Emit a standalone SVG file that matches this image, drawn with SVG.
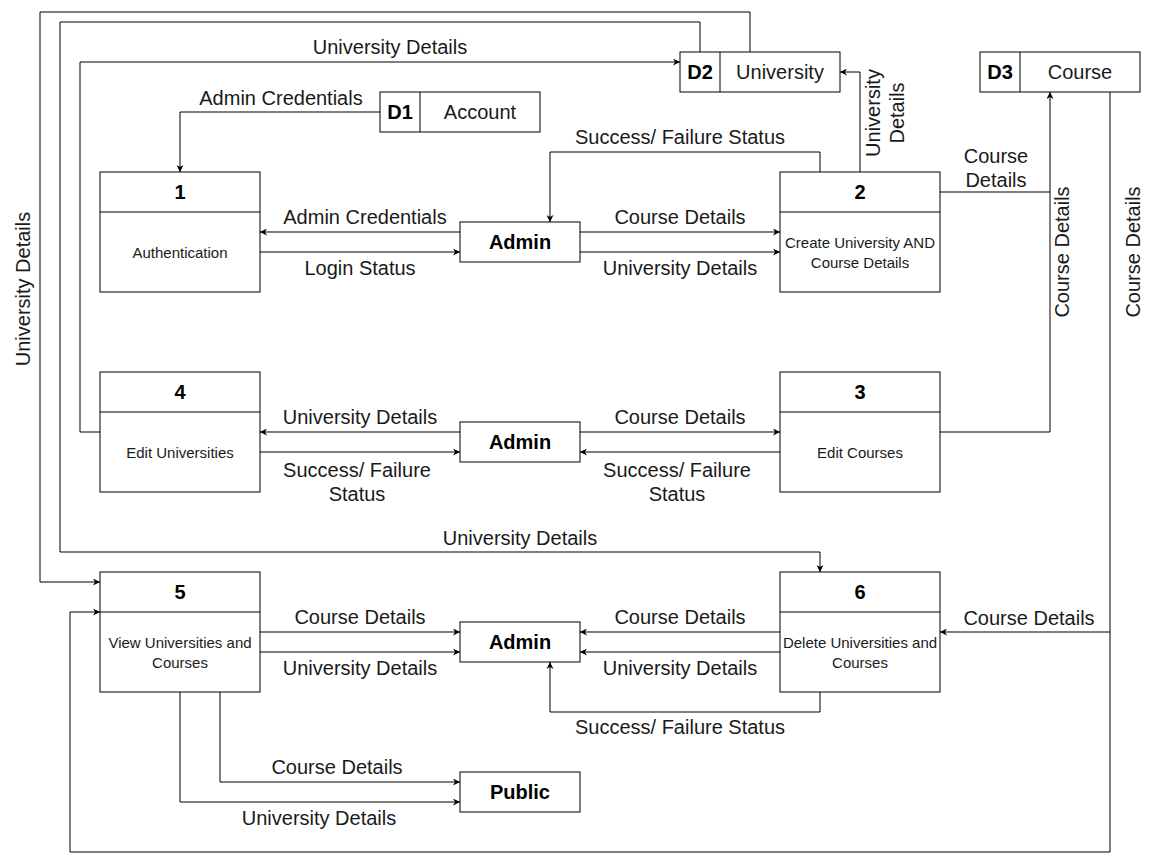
<svg xmlns="http://www.w3.org/2000/svg" width="1153" height="866" viewBox="0 0 1153 866">
<style>
.box{fill:#fff;stroke:#000;stroke-width:1}
.ln{fill:none;stroke:#000;stroke-width:1}
.lbl{font-family:"Liberation Sans",Arial,Helvetica,sans-serif;font-size:20px;fill:#1a1a1a;text-anchor:middle;dominant-baseline:central}
.num{font-family:"Liberation Sans",Arial,Helvetica,sans-serif;font-size:20px;font-weight:bold;fill:#000;text-anchor:middle;dominant-baseline:central}
.sm{font-family:"Liberation Sans",Arial,Helvetica,sans-serif;font-size:15px;fill:#1a1a1a;text-anchor:middle;dominant-baseline:central}
.ent{font-family:"Liberation Sans",Arial,Helvetica,sans-serif;font-size:20px;font-weight:bold;fill:#000;text-anchor:middle;dominant-baseline:central}
</style>
<defs>
<marker id="arr" viewBox="0 0 10 10" refX="10" refY="5" markerWidth="7" markerHeight="7" orient="auto" markerUnits="userSpaceOnUse">
<path d="M0,0 L10,5 L0,10 L3,5 Z" fill="#000"/>
</marker>
</defs>
<rect width="1153" height="866" fill="#fff"/>

<g id="connectors">
<path class="ln" d="M380,112 H180 V172" marker-end="url(#arr)"/>
<path class="ln" d="M460,232 H260" marker-end="url(#arr)"/>
<path class="ln" d="M260,252 H460" marker-end="url(#arr)"/>
<path class="ln" d="M580,232 H780" marker-end="url(#arr)"/>
<path class="ln" d="M580,252 H780" marker-end="url(#arr)"/>
<path class="ln" d="M820,172 V152 H550 V222" marker-end="url(#arr)"/>
<path class="ln" d="M860,172 V72 H840" marker-end="url(#arr)"/>
<path class="ln" d="M940,192 H1050 V92" marker-end="url(#arr)"/>
<path class="ln" d="M940,432 H1050 V192"/>
<path class="ln" d="M1110,92 V632 H940" marker-end="url(#arr)"/>
<path class="ln" d="M1110,632 V852 H70 V612 H100" marker-end="url(#arr)"/>
<path class="ln" d="M700,52 V22 H60 V552 H820 V572" marker-end="url(#arr)"/>
<path class="ln" d="M750,52 V12 H40 V582 H100" marker-end="url(#arr)"/>
<path class="ln" d="M100,432 H80 V62 H680" marker-end="url(#arr)"/>
<path class="ln" d="M460,432 H260" marker-end="url(#arr)"/>
<path class="ln" d="M260,452 H460" marker-end="url(#arr)"/>
<path class="ln" d="M580,432 H780" marker-end="url(#arr)"/>
<path class="ln" d="M780,452 H580" marker-end="url(#arr)"/>
<path class="ln" d="M260,632 H460" marker-end="url(#arr)"/>
<path class="ln" d="M260,652 H460" marker-end="url(#arr)"/>
<path class="ln" d="M780,632 H580" marker-end="url(#arr)"/>
<path class="ln" d="M780,652 H580" marker-end="url(#arr)"/>
<path class="ln" d="M820,692 V712 H550 V662" marker-end="url(#arr)"/>
<path class="ln" d="M220,692 V782 H460" marker-end="url(#arr)"/>
<path class="ln" d="M180,692 V802 H460" marker-end="url(#arr)"/>

<text class="lbl" x="281" y="98">Admin Credentials</text>
<text class="lbl" x="390" y="47">University Details</text>
<text class="lbl" x="365" y="217">Admin Credentials</text>
<text class="lbl" x="360" y="268">Login Status</text>
<text class="lbl" x="680" y="217">Course Details</text>
<text class="lbl" x="680" y="268">University Details</text>
<text class="lbl" x="680" y="137">Success/ Failure Status</text>
<text class="lbl" transform="translate(885,113) rotate(-90)"><tspan x="0" y="-12">University</tspan><tspan x="0" y="12">Details</tspan></text>
<text class="lbl" x="996" y="156">Course</text>
<text class="lbl" x="996" y="180">Details</text>
<text class="lbl" transform="translate(1062,252) rotate(-90)">Course Details</text>
<text class="lbl" transform="translate(1133,252) rotate(-90)">Course Details</text>
<text class="lbl" transform="translate(23,289) rotate(-90)">University Details</text>
<text class="lbl" x="360" y="417">University Details</text>
<text class="lbl" x="357" y="470">Success/ Failure</text>
<text class="lbl" x="357" y="494">Status</text>
<text class="lbl" x="680" y="417">Course Details</text>
<text class="lbl" x="677" y="470">Success/ Failure</text>
<text class="lbl" x="677" y="494">Status</text>
<text class="lbl" x="520" y="538">University Details</text>
<text class="lbl" x="360" y="617">Course Details</text>
<text class="lbl" x="360" y="668">University Details</text>
<text class="lbl" x="680" y="617">Course Details</text>
<text class="lbl" x="680" y="668">University Details</text>
<text class="lbl" x="1029" y="618">Course Details</text>
<text class="lbl" x="680" y="727">Success/ Failure Status</text>
<text class="lbl" x="337" y="767">Course Details</text>
<text class="lbl" x="319" y="818">University Details</text>
</g>

<g id="D1">
<rect class="box" x="380" y="92" width="160" height="40"/>
<line class="ln" x1="420" y1="92" x2="420" y2="132"/>
<text class="num" x="400" y="112">D1</text>
<text class="lbl" x="480" y="112">Account</text>
</g>
<g id="D2">
<rect class="box" x="680" y="52" width="160" height="40"/>
<line class="ln" x1="720" y1="52" x2="720" y2="92"/>
<text class="num" x="700" y="72">D2</text>
<text class="lbl" x="780" y="72">University</text>
</g>
<g id="D3">
<rect class="box" x="980" y="52" width="160" height="40"/>
<line class="ln" x1="1020" y1="52" x2="1020" y2="92"/>
<text class="num" x="1000" y="72">D3</text>
<text class="lbl" x="1080" y="72">Course</text>
</g>

<g id="P1">
<rect class="box" x="100" y="172" width="160" height="120"/>
<line class="ln" x1="100" y1="212" x2="260" y2="212"/>
<text class="num" x="180" y="192">1</text>
<text class="sm" x="180" y="252">Authentication</text>
</g>
<g id="P2">
<rect class="box" x="780" y="172" width="160" height="120"/>
<line class="ln" x1="780" y1="212" x2="940" y2="212"/>
<text class="num" x="860" y="192">2</text>
<text class="sm" x="860" y="242">Create University AND</text>
<text class="sm" x="860" y="262">Course Details</text>
</g>
<g id="P3">
<rect class="box" x="780" y="372" width="160" height="120"/>
<line class="ln" x1="780" y1="412" x2="940" y2="412"/>
<text class="num" x="860" y="392">3</text>
<text class="sm" x="860" y="452">Edit Courses</text>
</g>
<g id="P4">
<rect class="box" x="100" y="372" width="160" height="120"/>
<line class="ln" x1="100" y1="412" x2="260" y2="412"/>
<text class="num" x="180" y="392">4</text>
<text class="sm" x="180" y="452">Edit Universities</text>
</g>
<g id="P5">
<rect class="box" x="100" y="572" width="160" height="120"/>
<line class="ln" x1="100" y1="612" x2="260" y2="612"/>
<text class="num" x="180" y="592">5</text>
<text class="sm" x="180" y="642">View Universities and</text>
<text class="sm" x="180" y="662">Courses</text>
</g>
<g id="P6">
<rect class="box" x="780" y="572" width="160" height="120"/>
<line class="ln" x1="780" y1="612" x2="940" y2="612"/>
<text class="num" x="860" y="592">6</text>
<text class="sm" x="860" y="642">Delete Universities and</text>
<text class="sm" x="860" y="662">Courses</text>
</g>

<g id="Admin1">
<rect class="box" x="460" y="222" width="120" height="40"/>
<text class="ent" x="520" y="242">Admin</text>
</g>
<g id="Admin2">
<rect class="box" x="460" y="422" width="120" height="40"/>
<text class="ent" x="520" y="442">Admin</text>
</g>
<g id="Admin3">
<rect class="box" x="460" y="622" width="120" height="40"/>
<text class="ent" x="520" y="642">Admin</text>
</g>
<g id="Public">
<rect class="box" x="460" y="772" width="120" height="40"/>
<text class="ent" x="520" y="792">Public</text>
</g>
</svg>
